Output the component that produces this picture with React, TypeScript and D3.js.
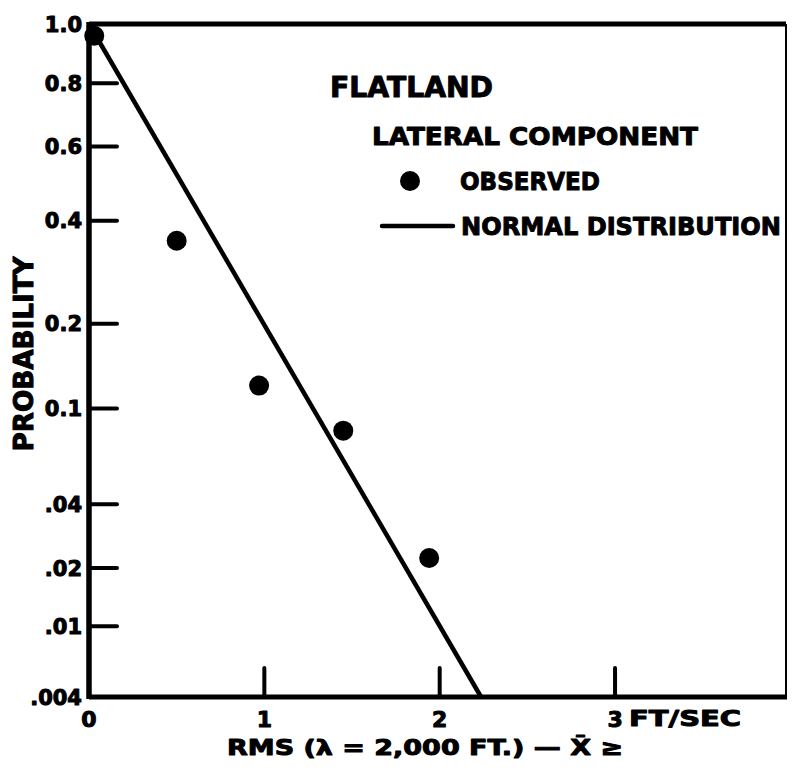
import React from "react";
import * as d3 from "d3";

// ---- data ----
const yTickValues = [1.0, 0.8, 0.6, 0.4, 0.2, 0.1, 0.04, 0.02, 0.01, 0.004];
const yTickLabels = ["1.0", "0.8", "0.6", "0.4", "0.2", "0.1", ".04", ".02", ".01", ".004"];
const xTickValues = [0, 1, 2, 3];
const xTickLabels = ["0", "1", "2", "3"];
const observedX = [0.03, 0.5, 0.97, 1.45, 1.94];
const observedP = [0.96, 0.354, 0.122, 0.082, 0.0224];
const normalX = [0, 2.236];
const normalP = [1.0, 0.004];

const W = 793;
const H = 771;
const FONT = "'DejaVu Sans', 'Liberation Sans', Arial, sans-serif";

// inverse of standard normal CDF (Acklam)
function normInv(p: number): number {
  if (p <= 0.5 + 1e-12 && p >= 0.5 - 1e-12) return 0;
  const a = [-3.969683028665376e1, 2.209460984245205e2, -2.759285104469687e2, 1.38357751867269e2, -3.066479806614716e1, 2.506628277459239];
  const b = [-5.447609879822406e1, 1.615858368580409e2, -1.556989798598866e2, 6.680131188771972e1, -1.328068155288572e1];
  const c = [-7.784894002430293e-3, -3.223964580411365e-1, -2.400758277161838, -2.549732539343734, 4.374664141464968, 2.938163982698783];
  const d = [7.784695709041462e-3, 3.224671290700398e-1, 2.445134137142996, 3.754408661907416];
  const pl = 0.02425;
  let q, r;
  if (p < pl) {
    q = Math.sqrt(-2 * Math.log(p));
    return (((((c[0] * q + c[1]) * q + c[2]) * q + c[3]) * q + c[4]) * q + c[5]) / ((((d[0] * q + d[1]) * q + d[2]) * q + d[3]) * q + 1);
  } else if (p <= 1 - pl) {
    q = p - 0.5;
    r = q * q;
    return ((((((a[0] * r + a[1]) * r + a[2]) * r + a[3]) * r + a[4]) * r + a[5]) * q) / (((((b[0] * r + b[1]) * r + b[2]) * r + b[3]) * r + b[4]) * r + 1);
  } else {
    q = Math.sqrt(-2 * Math.log(1 - p));
    return -(((((c[0] * q + c[1]) * q + c[2]) * q + c[3]) * q + c[4]) * q + c[5]) / ((((d[0] * q + d[1]) * q + d[2]) * q + d[3]) * q + 1);
  }
}
// half-normal exceedance probability scale
const zOf = (P: number) => normInv(1 - P / 2);

const left = 89, right = 786, top = 24, bottom = 697;
const x = d3.scaleLinear().domain([0, 3.975]).range([left, right]);
const yz = d3.scaleLinear().domain([0, zOf(0.004)]).range([top, bottom]);
const y = (P: number) => yz(zOf(P));

const heavy = { stroke: "#000", strokeWidth: 1, strokeLinejoin: "round" as const };

export default function App() {
  const linePath = d3
    .line<number>()
    .x((_, i) => x(normalX[i]))
    .y((_, i) => y(normalP[i]))(normalX);

  return (
    <svg width={W} height={H} style={{ position: "absolute", left: 0, top: 0, background: "#fff" }} fontFamily={FONT} fontWeight="bold">
      <rect width={W} height={H} fill="#fff" />
      {/* frame */}
      <line x1={left} x2={right} y1={top} y2={top} stroke="#000" strokeWidth={5} />
      <line x1={right} x2={right} y1={top} y2={bottom} stroke="#000" strokeWidth={2} />
      <line x1={left} x2={right + 1} y1={bottom} y2={bottom} stroke="#000" strokeWidth={5} />
      <line x1={left} x2={left} y1={top - 2} y2={bottom + 2} stroke="#000" strokeWidth={5.5} />

      {/* y ticks */}
      {yTickValues.map((v, i) => (
        <g key={"yt" + i}>
          {v !== 1.0 && v !== 0.004 && (
            <line x1={left} x2={left + 28} y1={y(v)} y2={y(v)} stroke="#000" strokeWidth={4} strokeLinecap="round" />
          )}
          <text x={82} y={y(v)} dy="0.36em" textAnchor="end" fontSize={21} {...heavy}>
            {yTickLabels[i]}
          </text>
        </g>
      ))}

      {/* x ticks */}
      {xTickValues.map((v, i) => (
        <g key={"xt" + i}>
          {v !== 0 && <line x1={x(v)} x2={x(v)} y1={bottom} y2={bottom - 29} stroke="#000" strokeWidth={4} strokeLinecap="round" />}
          <text x={x(v)} y={727} textAnchor="middle" fontSize={22} {...heavy}>
            {xTickLabels[i]}
          </text>
        </g>
      ))}
      <text x={x(3) + 14} y={726} fontSize={22} textLength={112} lengthAdjust="spacingAndGlyphs" {...heavy}>
        FT/SEC
      </text>

      {/* normal distribution line */}
      <path d={linePath || ""} fill="none" stroke="#000" strokeWidth={4.5} />

      {/* observed points */}
      {observedX.map((v, i) => (
        <circle key={"o" + i} cx={x(v)} cy={y(observedP[i])} r={10} fill="#000" />
      ))}

      {/* legend */}
      <text x={330} y={97} fontSize={29} textLength={163} lengthAdjust="spacingAndGlyphs" {...heavy}>
        FLATLAND
      </text>
      <text x={372} y={145} fontSize={25} textLength={326} lengthAdjust="spacingAndGlyphs" {...heavy}>
        LATERAL COMPONENT
      </text>
      <circle cx={410} cy={181} r={10} fill="#000" />
      <text x={460} y={190} fontSize={25} textLength={140} lengthAdjust="spacingAndGlyphs" {...heavy}>
        OBSERVED
      </text>
      <line x1={382} x2={453} y1={226} y2={226} stroke="#000" strokeWidth={4.5} strokeLinecap="round" />
      <text x={461} y={235} fontSize={25} textLength={320} lengthAdjust="spacingAndGlyphs" {...heavy}>
        NORMAL DISTRIBUTION
      </text>

      {/* axis titles */}
      <text transform="translate(33,354) rotate(-90)" textAnchor="middle" fontSize={26} textLength={195} lengthAdjust="spacingAndGlyphs" {...heavy}>
        PROBABILITY
      </text>
      <text x={227} y={755} fontSize={22} textLength={396} lengthAdjust="spacingAndGlyphs" {...heavy}>
        {"RMS (\u03BB = 2,000 FT.) \u2014 X\u0304 \u2265"}
      </text>
    </svg>
  );
}
